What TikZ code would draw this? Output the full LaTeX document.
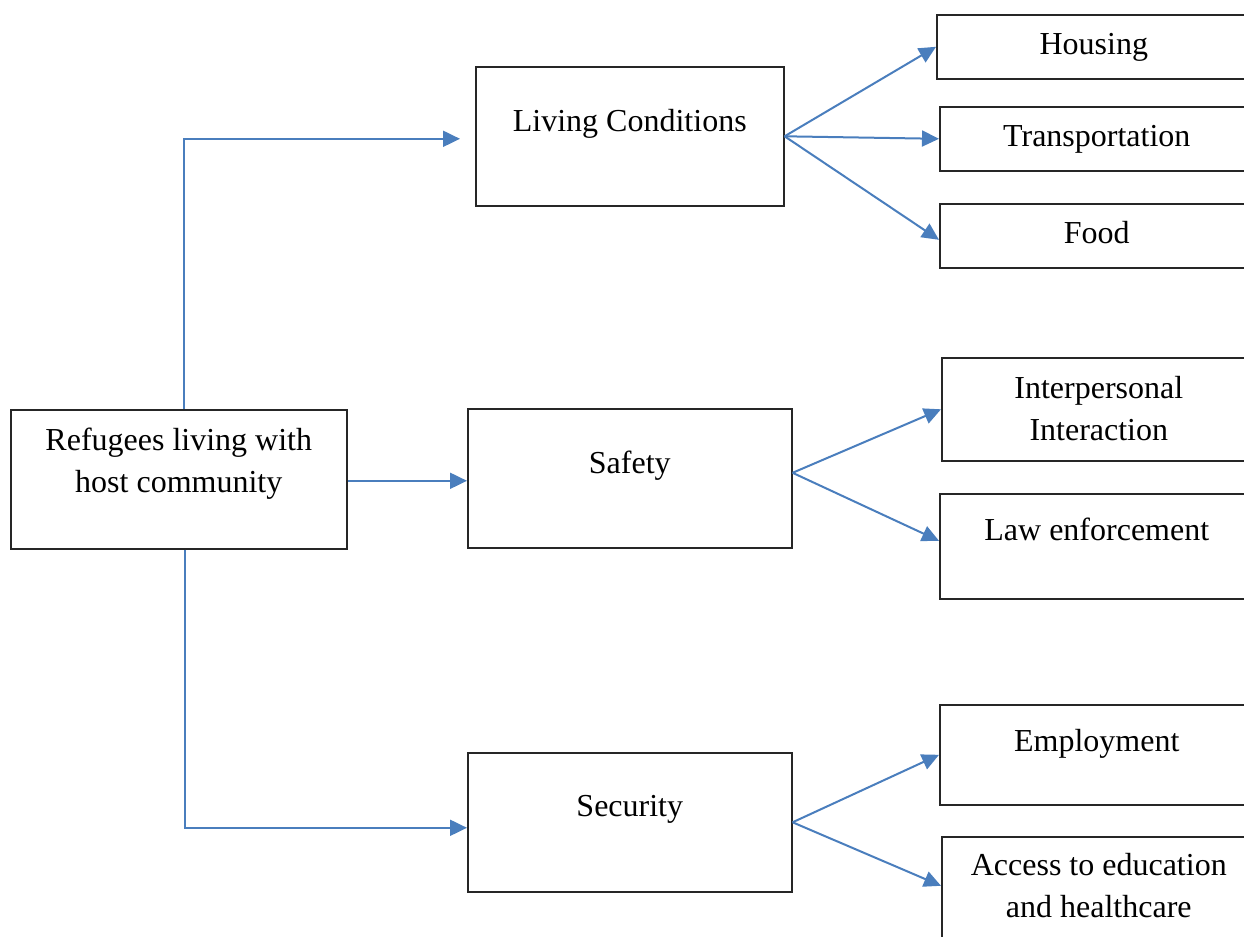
\documentclass[tikz,border=0pt]{standalone}
\usepackage{fontspec}
\setmainfont{Liberation Serif}
\usetikzlibrary{arrows.meta, positioning}
\definecolor{linkblue}{RGB}{74,126,189}
\tikzset{
    block/.style={rectangle, draw=black!85, line width=0.8pt, fill=white, align=center, anchor=north west, inner xsep=3pt, inner ysep=0pt, font=\fontsize{16}{21}\selectfont},
    side/.style={block, minimum width=157pt},
    pad/.style 2 args={text height=#1, text depth=#2},
    arrow/.style={linkblue, line width=1pt, -{Triangle[length=8.5pt,width=8pt]}}
}

\begin{document}
\begin{tikzpicture}[x=0.5pt, y=-0.5pt]
    \useasboundingbox (0,0) rectangle (1244,937);
    \clip (0,0) rectangle (1244,937);

    % main boxes
    \node (refugees) [block, minimum width=168pt, pad={41.5pt}{28pt}] at (10,409) {Refugees living with\\host community};
    \node (living) [block, minimum width=154pt, pad={32.5pt}{37pt}] at (475,66) {Living Conditions};
    \node (safety) [block, minimum width=162pt, pad={32.5pt}{37pt}] at (467,408) {Safety};
    \node (security) [block, minimum width=162pt, pad={32pt}{37.5pt}] at (467,752) {Security};

    % sub boxes
    \node (housing) [side, pad={20pt}{12pt}] at (936,14) {Housing};
    \node (transport) [side, pad={20pt}{12pt}] at (939,106) {Transportation};
    \node (food) [side, pad={20pt}{12pt}] at (939,203) {Food};
    \node (interaction) [side, pad={41.5pt}{10pt}] at (941,357) {Interpersonal\\Interaction};
    \node (law) [side, pad={23.5pt}{29pt}] at (939,493) {Law enforcement};
    \node (employment) [side, pad={23.5pt}{26.5pt}] at (939,704) {Employment};
    \node (access) [side, pad={40.5pt}{19pt}] at (941,836) {Access to education\\and healthcare};

    \draw [arrow, shorten >=7.5pt] ([xshift=2.5pt]refugees.north) |- ([yshift=-1.25pt]living.west);
    \draw [arrow] ([yshift=-0.75pt]refugees.east) -- ([yshift=-0.75pt]refugees.east -| safety.west);
    \draw [arrow] ([xshift=3pt]refugees.south) |- ([yshift=-2.75pt]security.west);

    \draw [arrow] (living.east) -- (housing.west);
    \draw [arrow] (living.east) -- (transport.west);
    \draw [arrow] (living.east) -- ([yshift=-2pt]food.west);
    \draw [arrow] ([yshift=2.75pt]safety.east) -- (interaction.west);
    \draw [arrow] ([yshift=2.75pt]safety.east) -- ([yshift=2.75pt]law.west);
    \draw [arrow] (security.east) -- (employment.west);
    \draw [arrow] (security.east) -- ([yshift=5.25pt]access.west);
\end{tikzpicture}
\end{document}
